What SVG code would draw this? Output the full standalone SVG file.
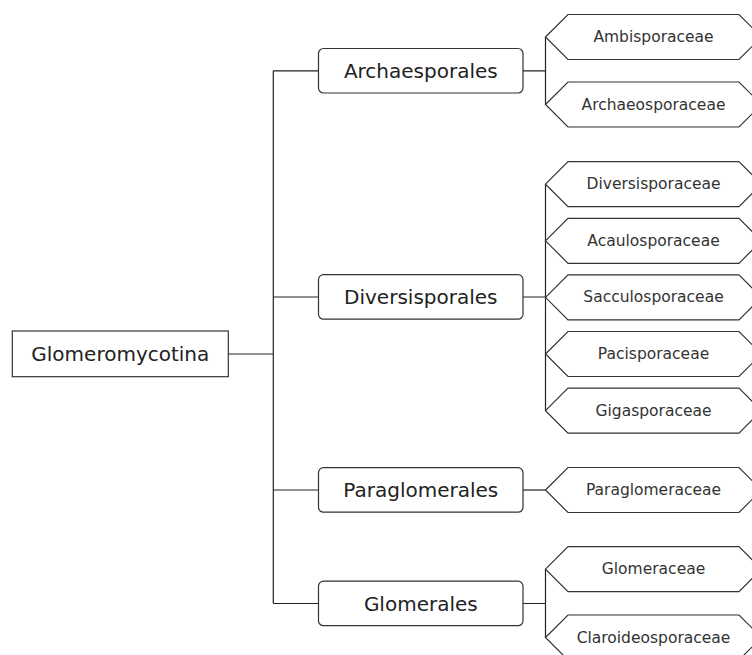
<svg xmlns="http://www.w3.org/2000/svg" xmlns:xlink="http://www.w3.org/1999/xlink" width="752" height="655" viewBox="0 0 752 655">
<style>
.box{fill:#fff;stroke:#333;stroke-width:1.2}
.hex{fill:#fff;stroke:#333;stroke-width:1.2}
.lbl{font-family:"DejaVu Sans",Verdana,sans-serif;font-size:20px;fill:#222;text-anchor:middle;dominant-baseline:central}
.hl{font-family:"DejaVu Sans",Verdana,sans-serif;font-size:15.5px;fill:#333;text-anchor:middle;dominant-baseline:central}
.con{fill:none;stroke:#222;stroke-width:1.2}
</style>
<defs>
<polygon id="hexshape" points="-108,0 -85.5,-22.5 85.5,-22.5 108,0 85.5,22.5 -85.5,22.5"/>
</defs>
<rect width="752" height="655" fill="#fff"/>
<g id="connectors" class="con">
<path d="M228.3,354 H273.3"/>
<path d="M273.3,70.8 V603.5"/>
<path d="M273.3,70.8 H318.5 M273.3,297 H318.5 M273.3,490 H318.5 M273.3,603.5 H318.5"/>
<path d="M523,70.8 H545.5 M545.5,37 V104.5"/>
<path d="M523,297 H545.5 M545.5,184.2 V410.7"/>
<path d="M523,490 H545.5"/>
<path d="M523,603.5 H545.5 M545.5,569.2 V637.5"/>
</g>
<g id="glomeromycotina">
<rect class="box" x="12.3" y="331" width="216" height="45.7"/>
<text class="lbl" x="120.3" y="354">Glomeromycotina</text>
</g>
<g id="archaesporales">
<rect class="box" x="318.5" y="48.5" width="204.5" height="44.5" rx="5"/>
<text class="lbl" x="420.8" y="70.8">Archaesporales</text>
</g>
<g id="diversisporales">
<rect class="box" x="318.5" y="274.7" width="204.5" height="44.5" rx="5"/>
<text class="lbl" x="420.8" y="297">Diversisporales</text>
</g>
<g id="paraglomerales">
<rect class="box" x="318.5" y="467.7" width="204.5" height="44.5" rx="5"/>
<text class="lbl" x="420.8" y="490">Paraglomerales</text>
</g>
<g id="glomerales">
<rect class="box" x="318.5" y="581.2" width="204.5" height="44.5" rx="5"/>
<text class="lbl" x="420.8" y="603.5">Glomerales</text>
</g>
<g id="ambisporaceae" transform="translate(653.5,37)">
<use xlink:href="#hexshape" class="hex"/>
<text class="hl" x="0" y="0">Ambisporaceae</text>
</g>
<g id="archaeosporaceae" transform="translate(653.5,104.5)">
<use xlink:href="#hexshape" class="hex"/>
<text class="hl" x="0" y="0">Archaeosporaceae</text>
</g>
<g id="diversisporaceae" transform="translate(653.5,184.2)">
<use xlink:href="#hexshape" class="hex"/>
<text class="hl" x="0" y="0">Diversisporaceae</text>
</g>
<g id="acaulosporaceae" transform="translate(653.5,240.8)">
<use xlink:href="#hexshape" class="hex"/>
<text class="hl" x="0" y="0">Acaulosporaceae</text>
</g>
<g id="sacculosporaceae" transform="translate(653.5,297.3)">
<use xlink:href="#hexshape" class="hex"/>
<text class="hl" x="0" y="0">Sacculosporaceae</text>
</g>
<g id="pacisporaceae" transform="translate(653.5,354)">
<use xlink:href="#hexshape" class="hex"/>
<text class="hl" x="0" y="0">Pacisporaceae</text>
</g>
<g id="gigasporaceae" transform="translate(653.5,410.7)">
<use xlink:href="#hexshape" class="hex"/>
<text class="hl" x="0" y="0">Gigasporaceae</text>
</g>
<g id="paraglomeraceae" transform="translate(653.5,490)">
<use xlink:href="#hexshape" class="hex"/>
<text class="hl" x="0" y="0">Paraglomeraceae</text>
</g>
<g id="glomeraceae" transform="translate(653.5,569.2)">
<use xlink:href="#hexshape" class="hex"/>
<text class="hl" x="0" y="0">Glomeraceae</text>
</g>
<g id="claroideosporaceae" transform="translate(653.5,637.5)">
<use xlink:href="#hexshape" class="hex"/>
<text class="hl" x="0" y="0">Claroideosporaceae</text>
</g>
</svg>
